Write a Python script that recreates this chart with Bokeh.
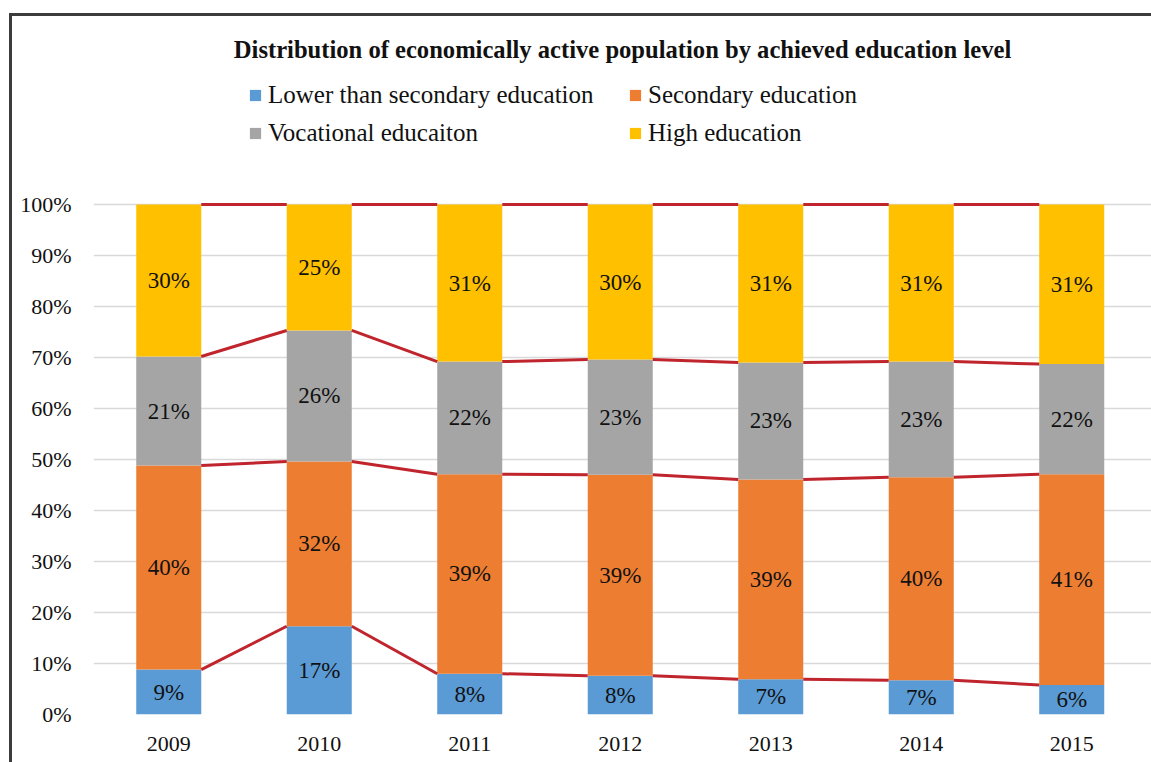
from bokeh.plotting import figure
from bokeh.models import (Range1d, FixedTicker, NumeralTickFormatter, Legend,
                          LegendItem, ColumnDataSource)
from bokeh.embed import file_html
from bokeh.resources import INLINE
from bokeh.core.properties import value

# ---- data (percent of economically active population) ----
years = ["2009", "2010", "2011", "2012", "2013", "2014", "2015"]
lower = [8.8, 17.3, 8.0, 7.6, 6.9, 6.7, 5.8]
secondary = [40.0, 32.3, 39.1, 39.4, 39.2, 39.8, 41.3]
vocational = [21.4, 25.7, 22.1, 22.6, 22.9, 22.7, 21.6]
high = [29.8, 24.7, 30.8, 30.4, 31.0, 30.8, 31.3]
series_names = ["Lower than secondary education", "Secondary education",
                "Vocational educaiton", "High education"]
series_colors = ["#5B9BD5", "#ED7D31", "#A5A5A5", "#FFC000"]
y_ticks = [0.0, 0.1, 0.2, 0.3, 0.4, 0.5, 0.6, 0.7, 0.8, 0.9, 1.0]

FONT = "Liberation Serif"
BAR_W = 0.432

series = [lower, secondary, vocational, high]
keys = ["lower", "secondary", "vocational", "high"]
xs = list(range(len(years)))

data = {"x": xs}
for k, s in zip(keys, series):
    data[k] = [v / 100.0 for v in s]
src = ColumnDataSource(data)

p = figure(width=1151, height=762,
           x_range=Range1d(-0.5, 6.53), y_range=Range1d(0, 1.2627),
           output_backend="svg", toolbar_location=None,
           min_border_left=93, min_border_right=0,
           min_border_top=70, min_border_bottom=48,
           title="Distribution of economically active population by achieved education level")
# chart-area frame (left and top edges visible in the reference)
p.styles = {"box-shadow": "inset 9px 13px 0 0 #ffffff, inset 12px 16px 0 0 #3c3c3c"}

p.title.text_font = FONT
p.title.text_font_size = "24.6px"
p.title.text_font_style = "bold"
p.title.text_color = "#111111"
p.title.align = "center"
p.title.standoff = 16

p.outline_line_color = None
p.background_fill_color = "white"
p.border_fill_alpha = 0

renderers = p.vbar_stack(keys, x="x", width=BAR_W, color=series_colors,
                         line_color=None, source=src)

# connecting series lines between bars
cum = []
run = [0.0] * len(years)
for s in series:
    run = [r + v / 100.0 for r, v in zip(run, s)]
    cum.append(run)
x0, y0, x1, y1 = [], [], [], []
for c in cum:
    for i in range(len(years) - 1):
        x0.append(xs[i] + BAR_W / 2)
        x1.append(xs[i + 1] - BAR_W / 2)
        y0.append(c[i])
        y1.append(c[i + 1])
p.segment(x0=x0, y0=y0, x1=x1, y1=y1, line_color="#C0242C", line_width=3)

# data labels
lx, ly, lt = [], [], []
base = [0.0] * len(years)
for s in series:
    for i, v in enumerate(s):
        lx.append(xs[i])
        ly.append(base[i] + v / 200.0)
        lt.append(f"{round(v):d}%")
    base = [b + v / 100.0 for b, v in zip(base, s)]
p.text(x=lx, y=ly, text=lt, text_align="center", text_baseline="middle",
       text_font=value(FONT), text_font_size="23px", text_color="#111111")

# axes
p.yaxis.ticker = FixedTicker(ticks=y_ticks)
p.yaxis.formatter = NumeralTickFormatter(format="0%")
p.yaxis.axis_line_color = None
p.yaxis.major_tick_line_color = None
p.yaxis.minor_tick_line_color = None
p.yaxis.major_tick_out = 0
p.yaxis.minor_tick_out = 0
p.yaxis.major_label_standoff = 22
p.yaxis.major_label_text_font = FONT
p.yaxis.major_label_text_font_size = "22px"
p.yaxis.major_label_text_color = "#111111"

p.xaxis.ticker = FixedTicker(ticks=xs)
p.xaxis.major_label_overrides = {i: y for i, y in zip(xs, years)}
p.xaxis.axis_line_color = None
p.xaxis.major_tick_line_color = None
p.xaxis.minor_tick_line_color = None
p.xaxis.major_tick_out = 0
p.xaxis.minor_tick_out = 0
p.xaxis.major_label_standoff = 22
p.xaxis.major_label_text_font = FONT
p.xaxis.major_label_text_font_size = "22px"
p.xaxis.major_label_text_color = "#111111"

p.xgrid.grid_line_color = None
p.ygrid.grid_line_color = "#D9D9D9"
p.ygrid.grid_line_width = 1.3

# legend: filled column by column, so this order gives rows
# (Lower | Secondary) and (Vocational | High)
order = [0, 2, 1, 3]
legend = Legend(
    items=[LegendItem(label=series_names[k], renderers=[renderers[k]]) for k in order],
    ncols=2, location=(155, 562),
    glyph_width=14, glyph_height=14, label_standoff=6,
    label_width=360, label_height=38, spacing=0, padding=0, margin=0,
    border_line_color=None, background_fill_alpha=0,
    label_text_font=FONT, label_text_font_size="25px", label_text_color="#111111",
)
p.add_layout(legend)

open("out.html", "w").write(file_html(p, INLINE))
